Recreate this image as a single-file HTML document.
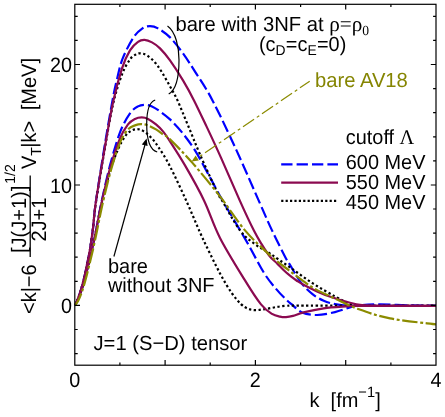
<!DOCTYPE html><html><head><meta charset="utf-8"><style>html,body{margin:0;padding:0;background:#fff}svg{display:block}text{text-rendering:geometricPrecision;font-family:"Liberation Sans",sans-serif;fill:#000}.s{font-family:"Liberation Serif",serif}</style></head><body><svg width="445" height="417" viewBox="0 0 445 417">
<rect width="445" height="417" fill="#fff"/>
<defs><clipPath id="cp"><rect x="74.8" y="4.3" width="361.2" height="360.9"/></clipPath></defs>
<g clip-path="url(#cp)"><g fill="none" stroke-linejoin="round" transform="scale(1,1.000)">
<path id="ub" d="M74.8,305.4 C75.2,304.6 76.4,302.5 77.3,300.4 C78.2,298.3 79.0,295.9 80.0,292.9 C81.0,289.9 82.0,286.3 83.0,282.4 C84.0,278.5 84.9,274.7 86.0,269.4 C87.1,264.1 88.6,257.2 89.8,250.4 C91.0,243.6 92.0,236.1 93.0,228.4 C94.0,220.7 93.7,217.4 95.5,204.4 C97.3,191.4 101.1,167.7 103.9,150.4 C106.7,133.1 110.3,112.4 112.5,100.4 C114.7,88.4 115.5,85.4 117.2,78.4 C118.9,71.4 120.0,65.2 122.7,58.4 C125.4,51.6 130.2,42.4 133.5,37.4 C136.8,32.4 139.8,30.3 142.5,28.4 C145.2,26.5 147.4,26.1 150.0,26.1 C152.6,26.1 154.7,26.5 158.0,28.4 C161.3,30.3 165.8,33.2 170.0,37.4 C174.2,41.6 178.8,47.6 183.0,53.4 C187.2,59.2 190.6,64.6 195.5,72.4 C200.4,80.2 205.7,87.4 212.5,100.4 C219.3,113.4 228.7,133.4 236.5,150.4 C244.3,167.4 253.6,189.1 259.5,202.4 C265.4,215.7 267.6,221.2 272.0,230.4 C276.4,239.7 282.7,252.1 285.7,257.9 C288.7,263.6 287.4,260.7 290.0,264.9 C292.6,269.1 297.4,278.0 301.2,282.9 C304.9,287.8 308.8,291.1 312.5,294.1 C316.2,297.1 319.9,299.1 323.7,300.8 C327.4,302.5 330.9,303.4 335.0,304.2 C339.1,305.0 343.9,305.5 348.4,305.8 C352.9,306.1 353.4,305.9 362.0,305.9 C370.6,305.9 387.6,305.9 400.0,305.9 C412.4,305.9 430.4,305.9 436.5,305.9" stroke="#0000ff" stroke-width="2.2" stroke-dasharray="11.8,3.9" stroke-dashoffset="4.7"/>
<path id="lb" d="M74.8,305.4 C75.2,304.6 76.5,302.5 77.5,300.4 C78.5,298.3 79.5,295.9 80.5,292.9 C81.5,289.9 82.7,286.3 83.8,282.4 C84.9,278.5 85.9,274.7 87.2,269.4 C88.5,264.1 90.2,257.2 91.8,250.4 C93.3,243.6 95.0,236.1 96.5,228.4 C98.0,220.7 98.8,214.9 101.0,204.4 C103.2,193.9 106.8,177.4 110.0,165.4 C113.2,153.4 116.7,141.1 120.0,132.4 C123.3,123.7 127.0,117.7 130.0,113.4 C133.0,109.1 135.5,107.8 138.0,106.4 C140.5,105.0 142.7,104.9 145.0,104.9 C147.3,104.9 149.5,105.3 152.0,106.4 C154.5,107.5 157.0,109.2 160.0,111.4 C163.0,113.6 166.3,115.9 170.0,119.4 C173.7,122.9 177.8,127.2 182.0,132.4 C186.2,137.6 190.3,142.9 195.0,150.4 C199.7,157.9 205.4,169.1 210.0,177.4 C214.6,185.7 216.5,189.9 222.5,200.4 C228.5,210.9 239.1,228.3 246.0,240.4 C252.9,252.5 258.9,264.7 264.0,272.9 C269.1,281.1 272.8,284.9 276.5,289.4 C280.2,293.9 284.0,297.4 286.5,299.9 C289.0,302.4 288.9,302.1 291.5,304.2 C294.1,306.3 297.8,310.6 302.0,312.4 C306.2,314.2 311.5,315.1 317.0,315.0 C322.5,314.9 329.4,313.4 335.0,312.1 C340.6,310.8 347.0,308.2 350.7,307.1 C354.4,306.0 352.5,305.8 357.4,305.4 C362.3,304.9 371.2,304.4 380.0,304.4 C388.8,304.4 400.6,305.1 410.0,305.4 C419.4,305.6 432.1,305.8 436.5,305.9" stroke="#0000ff" stroke-width="2.2" stroke-dasharray="12.2,4" stroke-dashoffset="5.2"/>
<path id="ud" d="M74.8,305.4 C75.2,304.6 76.4,302.5 77.3,300.4 C78.2,298.3 79.0,295.9 80.0,292.9 C81.0,289.9 82.0,286.3 83.0,282.4 C84.0,278.5 84.9,274.7 86.0,269.4 C87.1,264.1 88.6,257.2 89.8,250.4 C91.0,243.6 92.0,235.9 93.0,228.4 C94.0,220.9 93.7,217.9 95.5,205.4 C97.3,192.9 101.1,170.2 104.0,153.4 C106.9,136.6 110.0,117.6 113.0,104.4 C116.0,91.2 119.2,81.9 122.0,74.4 C124.8,66.9 127.7,62.7 130.0,59.4 C132.3,56.1 134.2,55.4 136.0,54.4 C137.8,53.4 138.9,53.2 140.7,53.4 C142.5,53.6 144.6,53.9 147.0,55.4 C149.4,56.9 152.5,59.6 155.0,62.4 C157.5,65.2 159.5,68.4 162.0,72.4 C164.5,76.4 167.4,81.7 170.0,86.4 C172.6,91.1 174.5,93.9 177.5,100.4 C180.5,106.9 184.2,116.4 188.0,125.4 C191.8,134.4 195.1,143.2 200.0,154.4 C204.9,165.7 213.8,185.2 217.5,192.9 C221.2,200.6 218.2,194.2 222.0,200.4 C225.8,206.7 234.5,223.1 240.0,230.4 C245.5,237.7 250.0,240.3 255.0,244.2 C260.0,248.1 264.2,249.7 270.0,253.6 C275.8,257.5 282.9,262.5 290.0,267.4 C297.1,272.3 305.0,278.4 312.5,283.2 C320.0,288.0 328.6,292.9 335.0,296.4 C341.4,299.9 347.0,302.6 350.7,304.2 C354.4,305.8 349.2,305.5 357.4,305.8 C365.6,306.1 386.8,305.9 400.0,305.9 C413.2,305.9 430.4,305.9 436.5,305.9" stroke="#000" stroke-width="2.2" stroke-dasharray="2.3,2.5"/>
<path id="ld" d="M74.8,305.4 C75.2,304.6 76.5,302.5 77.5,300.4 C78.5,298.3 79.5,295.9 80.5,292.9 C81.5,289.9 82.7,286.3 83.8,282.4 C84.9,278.5 85.9,274.7 87.2,269.4 C88.5,264.1 90.2,257.2 91.8,250.4 C93.3,243.6 95.0,235.7 96.5,228.4 C98.0,221.1 98.8,215.9 101.0,206.4 C103.2,196.9 107.2,180.9 110.0,171.4 C112.8,161.9 115.5,155.2 118.0,149.4 C120.5,143.6 122.8,139.5 125.0,136.4 C127.2,133.3 129.0,132.1 131.0,130.9 C133.0,129.7 135.0,129.1 137.0,129.1 C139.0,129.1 140.8,129.7 143.0,130.9 C145.2,132.1 147.5,133.8 150.0,136.4 C152.5,139.0 154.7,141.4 158.0,146.4 C161.3,151.4 165.2,157.1 170.0,166.4 C174.8,175.7 181.6,190.5 187.0,202.4 C192.4,214.3 197.0,226.1 202.5,237.9 C208.0,249.7 215.1,264.1 220.0,273.4 C224.9,282.6 228.5,288.3 232.0,293.4 C235.5,298.5 238.3,301.5 241.0,304.1 C243.7,306.6 245.7,307.7 248.0,308.7 C250.3,309.7 252.2,310.0 255.0,310.1 C257.8,310.2 260.0,309.8 265.0,309.1 C270.0,308.4 277.5,306.5 285.0,305.9 C292.5,305.3 290.8,305.6 310.0,305.6 C329.2,305.6 378.9,305.8 400.0,305.9 C421.1,305.9 430.4,305.9 436.5,305.9" stroke="#000" stroke-width="2.2" stroke-dasharray="2.3,2.5"/>
<path id="um" d="M74.8,305.4 C75.2,304.6 76.4,302.5 77.3,300.4 C78.2,298.3 79.0,295.9 80.0,292.9 C81.0,289.9 82.0,286.3 83.0,282.4 C84.0,278.5 84.9,274.7 86.0,269.4 C87.1,264.1 88.6,257.2 89.8,250.4 C91.0,243.6 92.0,236.1 93.0,228.4 C94.0,220.7 93.7,217.1 95.5,204.4 C97.3,191.7 101.1,169.4 104.0,152.4 C106.9,135.4 110.0,116.4 113.0,102.4 C116.0,88.4 119.2,77.1 122.0,68.4 C124.8,59.7 127.3,54.8 130.0,50.4 C132.7,46.0 135.6,43.6 138.0,41.9 C140.4,40.1 142.2,39.8 144.5,39.9 C146.8,40.0 149.4,41.0 152.0,42.4 C154.6,43.8 157.0,45.4 160.0,48.4 C163.0,51.4 166.2,55.1 170.0,60.4 C173.8,65.7 179.0,73.7 183.0,80.4 C187.0,87.1 190.1,92.7 194.0,100.4 C197.9,108.1 201.9,116.7 206.5,126.4 C211.1,136.1 215.8,146.1 221.3,158.4 C226.8,170.7 234.3,188.4 239.7,200.4 C245.1,212.4 250.2,223.3 253.9,230.6 C257.6,237.9 259.0,239.8 261.6,244.1 C264.2,248.4 267.1,252.9 269.7,256.2 C272.3,259.4 275.0,261.3 277.3,263.6 C279.6,265.9 281.4,268.0 283.5,270.0 C285.6,272.0 287.8,273.9 290.0,275.7 C292.2,277.4 294.2,279.0 296.5,280.5 C298.8,282.0 300.1,283.0 303.5,284.8 C306.9,286.6 312.5,289.4 317.0,291.4 C321.5,293.4 324.9,294.9 330.4,296.8 C335.9,298.7 344.7,301.4 350.0,302.8 C355.3,304.2 357.8,304.7 362.0,305.2 C366.2,305.7 368.7,305.8 375.0,305.9 C381.3,306.0 389.8,305.9 400.0,305.9 C410.2,305.9 430.4,305.9 436.5,305.9" stroke="#8b0a50" stroke-width="2.2"/>
<path id="lm" d="M74.8,305.4 C75.2,304.6 76.5,302.5 77.5,300.4 C78.5,298.3 79.5,295.9 80.5,292.9 C81.5,289.9 82.7,286.3 83.8,282.4 C84.9,278.5 85.9,274.7 87.2,269.4 C88.5,264.1 90.2,257.2 91.8,250.4 C93.3,243.6 95.0,235.9 96.5,228.4 C98.0,220.9 98.8,215.4 101.0,205.4 C103.2,195.4 106.8,179.6 110.0,168.4 C113.2,157.2 117.0,145.7 120.0,138.4 C123.0,131.1 125.5,127.7 128.0,124.4 C130.5,121.2 132.7,120.1 135.0,118.9 C137.3,117.7 139.5,117.4 141.7,117.4 C143.9,117.4 145.6,117.7 148.0,118.9 C150.4,120.1 153.5,122.3 156.0,124.4 C158.5,126.5 160.7,128.6 163.0,131.4 C165.3,134.2 166.3,135.7 170.0,141.4 C173.7,147.1 179.3,155.6 185.0,165.4 C190.7,175.2 198.2,188.3 204.0,200.4 C209.8,212.5 213.2,224.6 220.0,237.9 C226.8,251.2 238.2,269.3 245.0,280.4 C251.8,291.5 256.5,298.8 261.0,304.4 C265.5,310.0 268.8,311.9 272.0,313.9 C275.2,315.9 277.7,316.1 280.0,316.6 C282.3,317.1 283.8,317.2 286.0,317.1 C288.2,317.0 290.1,316.7 293.0,315.9 C295.9,315.1 298.4,313.7 303.5,312.4 C308.6,311.1 316.6,309.3 323.7,308.3 C330.8,307.3 340.4,306.8 346.0,306.4 C351.6,306.0 348.0,306.0 357.0,305.9 C366.0,305.8 386.8,305.9 400.0,305.9 C413.2,305.9 430.4,305.9 436.5,305.9" stroke="#8b0a50" stroke-width="2.2"/>
<path id="av" d="M74.8,305.7 C75.4,304.8 77.2,302.5 78.3,300.4 C79.4,298.3 80.4,295.9 81.5,292.9 C82.6,289.9 83.7,286.3 84.8,282.4 C85.9,278.5 86.9,274.7 88.2,269.4 C89.5,264.1 91.2,257.2 92.8,250.4 C94.3,243.6 96.0,235.7 97.5,228.4 C99.0,221.1 99.8,216.2 102.0,206.4 C104.2,196.7 107.9,180.8 111.0,169.9 C114.1,159.0 117.9,147.7 120.8,140.9 C123.7,134.1 126.1,131.5 128.5,128.9 C130.9,126.3 132.9,126.2 135.0,125.4 C137.1,124.6 138.8,124.1 141.0,124.1 C143.2,124.1 145.5,124.5 148.0,125.4 C150.5,126.3 153.5,127.9 156.0,129.4 C158.5,130.9 160.7,132.7 163.0,134.4 C165.3,136.1 165.2,134.7 170.0,139.4 C174.8,144.1 183.7,152.9 192.0,162.4 C200.3,171.9 211.2,185.1 220.0,196.4 C228.8,207.7 236.7,220.6 245.0,230.4 C253.3,240.2 262.5,248.4 270.0,255.2 C277.5,262.0 282.9,265.7 290.0,271.1 C297.1,276.5 305.0,282.8 312.5,287.4 C320.0,292.0 327.5,295.0 335.0,298.6 C342.5,302.1 348.2,305.4 357.4,308.7 C366.6,312.0 376.8,315.8 390.0,318.4 C403.2,321.0 428.8,323.4 436.5,324.4" stroke="#8b8b00" stroke-width="2.2" stroke-dasharray="15.2,2.6,2.95,2.6" stroke-dashoffset="1.25"/>
</g></g>
<g fill="none" stroke="#000" stroke-width="1.2">
<path d="M167.5,26 C176,32 179,48 179,60 C179,76 176,90 168.7,94"/>
<path d="M155.2,100 C149.2,102 146.7,112 146.7,124 C146.7,140 150.2,150 157.2,152"/>
<path d="M113.9,256.5 L144.9,145"/>
</g>
<path d="M146.6,138.5 L141.8,144.4 L147.6,146 Z" fill="#000"/>
<path d="M309.7,81.2 L196.5,158.6" fill="none" stroke="#8b8b00" stroke-width="1.2" stroke-dasharray="13.4,3.3,3,3.3" stroke-dashoffset="1.6"/>
<path d="M191.6,161.5 L195.6,155.5 L198.8,160.5 Z" fill="#858500"/>
<g fill="none" stroke-width="2.3">
<path d="M281.2,164.3H338" stroke="#0000ff" stroke-dasharray="11.3,4.1"/>
<path d="M281.2,182.6H338" stroke="#8b0a50"/>
<path d="M281.2,200.8H338" stroke="#000" stroke-dasharray="2.2,2.2"/>
</g>
<g stroke="#000" stroke-width="1.2" fill="none">
<rect x="74.8" y="4.3" width="361.2" height="360.9"/>
<path d="M119.9,365.2v-2.7 M119.9,4.3v2.7"/>
<path d="M165.1,365.2v-5.3 M165.1,4.3v5.3"/>
<path d="M210.2,365.2v-2.7 M210.2,4.3v2.7"/>
<path d="M255.4,365.2v-5.3 M255.4,4.3v5.3"/>
<path d="M300.6,365.2v-2.7 M300.6,4.3v2.7"/>
<path d="M345.7,365.2v-5.3 M345.7,4.3v5.3"/>
<path d="M390.9,365.2v-2.7 M390.9,4.3v2.7"/>
<path d="M74.8,353.6h2.9 M436.0,353.6h-2.9"/>
<path d="M74.8,329.5h2.9 M436.0,329.5h-2.9"/>
<path d="M74.8,305.4h5.2 M436.0,305.4h-5.2"/>
<path d="M74.8,281.3h2.9 M436.0,281.3h-2.9"/>
<path d="M74.8,257.2h2.9 M436.0,257.2h-2.9"/>
<path d="M74.8,233.1h2.9 M436.0,233.1h-2.9"/>
<path d="M74.8,209.0h2.9 M436.0,209.0h-2.9"/>
<path d="M74.8,185.0h5.2 M436.0,185.0h-5.2"/>
<path d="M74.8,160.9h2.9 M436.0,160.9h-2.9"/>
<path d="M74.8,136.8h2.9 M436.0,136.8h-2.9"/>
<path d="M74.8,112.7h2.9 M436.0,112.7h-2.9"/>
<path d="M74.8,88.6h2.9 M436.0,88.6h-2.9"/>
<path d="M74.8,64.5h5.2 M436.0,64.5h-5.2"/>
<path d="M74.8,40.4h2.9 M436.0,40.4h-2.9"/>
<path d="M74.8,16.3h2.9 M436.0,16.3h-2.9"/>
</g>
<g style="opacity:0.999">
<text transform="translate(175.4,30.5) scale(0.985,1.000)" style="font-size:20.5px;">bare with 3NF at <tspan class="s" style="font-size:21.5px">ρ=ρ</tspan><tspan class="s" style="font-size:13.8px" dy="4.0">0</tspan><tspan dy="-4.0" style="font-size:1px"> </tspan></text>
<text transform="translate(259.0,50.6) scale(0.970,1.000)" style="font-size:20.5px;">(c<tspan style="font-size:14.3px" dy="4.0">D</tspan><tspan dy="-4.0" style="font-size:1px"> </tspan>=c<tspan style="font-size:14.3px" dy="4.0">E</tspan><tspan dy="-4.0" style="font-size:1px"> </tspan>=0)</text>
<text transform="translate(315.0,86.9) scale(0.985,1.000)" style="font-size:20.5px;fill:#858500;">bare AV18</text>
<text transform="translate(345.8,144.3) scale(0.970,1.000)" style="font-size:20.5px;">cutoff <tspan class="s" style="font-size:21px">Λ</tspan></text>
<text transform="translate(345.8,169.3) scale(0.970,1.000)" style="font-size:20.5px;">600 MeV</text>
<text transform="translate(345.8,189.3) scale(0.970,1.000)" style="font-size:20.5px;">550 MeV</text>
<text transform="translate(345.8,209.3) scale(0.970,1.000)" style="font-size:20.5px;">450 MeV</text>
<text transform="translate(107.9,272.6) scale(0.975,1.000)" style="font-size:20.5px;">bare</text>
<text transform="translate(107.9,292.1) scale(0.975,1.000)" style="font-size:20.5px;">without 3NF</text>
<text transform="translate(93.5,350.3) scale(0.985,1.000)" style="font-size:20.5px;">J=1 (S−D) tensor</text>
<text transform="translate(74.7,386.5) scale(0.950,1.000)" style="font-size:20.8px;" text-anchor="middle">0</text>
<text transform="translate(255.3,386.5) scale(0.950,1.000)" style="font-size:20.8px;" text-anchor="middle">2</text>
<text transform="translate(436.0,386.5) scale(0.950,1.000)" style="font-size:20.8px;" text-anchor="middle">4</text>
<text transform="translate(72.0,312.8) scale(0.950,1.000)" style="font-size:20.8px;" text-anchor="end">0</text>
<text transform="translate(71.9,192.7) scale(0.950,1.000)" style="font-size:20.8px;" text-anchor="end">10</text>
<text transform="translate(71.9,72.3) scale(0.950,1.000)" style="font-size:20.8px;" text-anchor="end">20</text>
<text transform="translate(309.5,407.0) scale(0.975,1.000)" style="font-size:20.5px;">k&#160; [fm<tspan style="font-size:15.0px" dy="-10.5">−1</tspan><tspan dy="10.5" style="font-size:1px"> </tspan>]</text>
<text transform="translate(36.0,314.0) scale(1.044,1.000) rotate(-90)" style="font-size:20.0px;">&lt;k|−6</text>
<text transform="translate(25.5,253.0) scale(1.044,1.000) rotate(-90)" style="font-size:20.0px;">[J(J+1)]<tspan dx="2.0" style="font-size:14.0px" dy="-10.0">1/2</tspan><tspan dy="10.0" style="font-size:1px"> </tspan></text>
<text transform="translate(45.5,241.5) scale(1.044,1.000) rotate(-90)" style="font-size:20.0px;">2J+1</text>
<path d="M30.2,257V175.5" stroke="#000" stroke-width="1.3"/>
<text transform="translate(36.0,169.0) scale(1.044,1.000) rotate(-90)" style="font-size:20.0px;">V<tspan style="font-size:14.0px" dy="4.5">T</tspan><tspan dy="-4.5" style="font-size:1px"> </tspan><tspan dx="-1">|k&gt;</tspan></text>
<text transform="translate(36.0,110.3) scale(1.044,1.000) rotate(-90)" style="font-size:20.0px;">[MeV]</text>
</g>
</svg></body></html>
